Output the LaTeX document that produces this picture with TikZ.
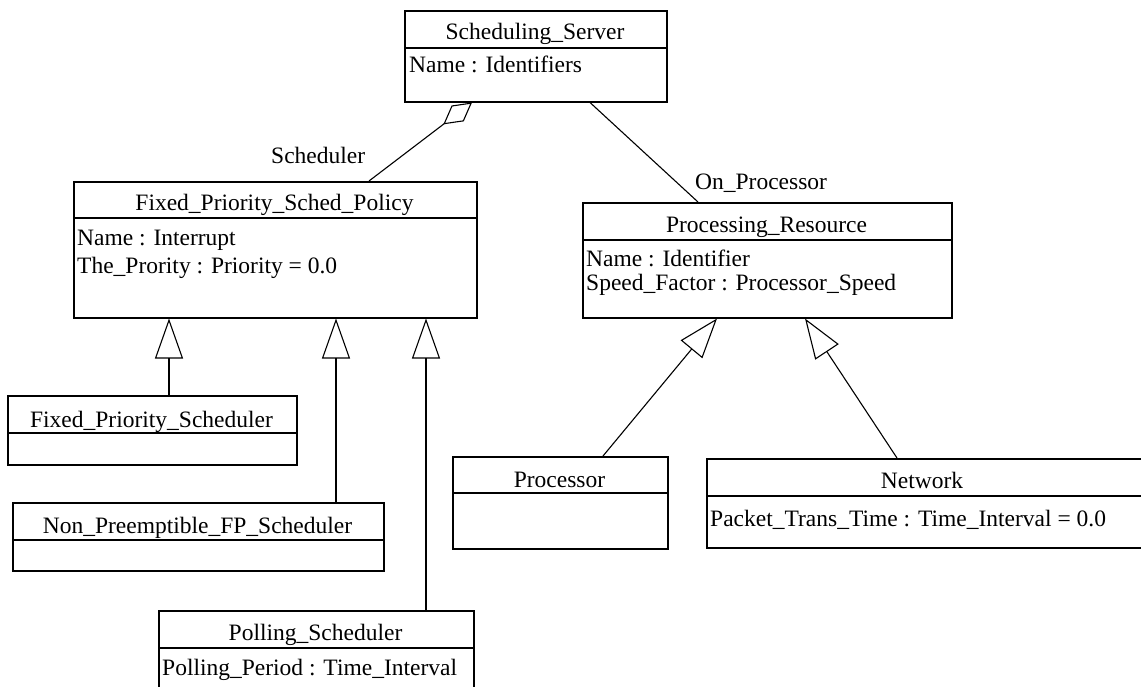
\documentclass[tikz,border=0pt]{standalone}
\usepackage{fontspec}
\setmainfont{Liberation Serif}
\usetikzlibrary{arrows.meta}
\newcommand\umlfont{\fontsize{23.5}{28}\selectfont}
\begin{document}
\begin{tikzpicture}[x=1pt, y=-1pt,
  cls/.style={draw, rectangle, inner sep=0pt, anchor=north west, line width=1.5pt},
  ttl/.style={inner sep=0pt, anchor=base, font=\umlfont},
  attr/.style={inner sep=0pt, anchor=base west, font=\umlfont},
  lbl/.style={inner sep=0pt, anchor=base west, font=\umlfont},
  sep/.style={line width=1.5pt},
  link/.style={line width=1.1pt},
  gen/.style={link, -{Triangle[open, length=40pt, width=28pt]}},
  agg/.style={link, -{Diamond[open, length=36pt, width=20pt]}},
]
\fill[white] (0,0) rectangle (1141,686);
\useasboundingbox (0,0) rectangle (1141,686);
\clip (0,0) rectangle (1141,686);

% class boxes
\node[cls, minimum width=262pt, minimum height=91pt]  (ss)   at (404,10)  {};
\node[cls, minimum width=403pt, minimum height=136pt] (fpsp) at (73,181)  {};
\node[cls, minimum width=369pt, minimum height=115pt] (pr)   at (582,202) {};
\node[cls, minimum width=289pt, minimum height=69pt]  (fps)  at (7,395)   {};
\node[cls, minimum width=371pt, minimum height=68pt]  (np)   at (12,502)  {};
\node[cls, minimum width=315pt, minimum height=100pt] (poll) at (158,610) {};
\node[cls, minimum width=215pt, minimum height=92pt]  (proc) at (452,456) {};
\node[cls, minimum width=450pt, minimum height=89pt]  (net)  at (706,458) {};

% compartment separators
\foreach \n/\h in {ss/38, fpsp/37, pr/38, fps/38, np/38, poll/38, proc/37, net/38}
  \draw[sep] ([yshift=-\h pt]\n.north west) -- ([yshift=-\h pt]\n.north east);

% class names
\node[ttl] (ss-t)   at (535,39)    {Scheduling\_Server};
\node[ttl] (fpsp-t) at (274.5,210) {Fixed\_Priority\_Sched\_Policy};
\node[ttl] (pr-t)   at (766.5,232) {Processing\_Resource};
\node[ttl] (fps-t)  at (151.5,427) {Fixed\_Priority\_Scheduler};
\node[ttl] (np-t)   at (197.5,533) {Non\_Preemptible\_FP\_Scheduler};
\node[ttl] (poll-t) at (315.5,640) {Polling\_Scheduler};
\node[ttl] (proc-t) at (559.5,487) {Processor};
\node[ttl] (net-t)  at (922,488)   {Network};

% attributes
\node[attr] (ss-a1)   at (409,72)  {Name : Identifiers};
\node[attr] (fpsp-a1) at (77,245)  {Name : Interrupt};
\node[attr] (fpsp-a2) at (77,273)  {The\_Prority : Priority = 0.0};
\node[attr] (pr-a1)   at (586,266) {Name : Identifier};
\node[attr] (pr-a2)   at (586,290) {Speed\_Factor : Processor\_Speed};
\node[attr] (poll-a1) at (162,675) {Polling\_Period : Time\_Interval};
\node[attr] (net-a1)  at (710,526) {Packet\_Trans\_Time : Time\_Interval = 0.0};

% association role names
\node[lbl] (role-sched) at (271,163) {Scheduler};
\node[lbl] (role-proc)  at (695,189) {On\_Processor};

% aggregation and association
\draw[agg]  ([xshift=296pt]fpsp.north west) -- ([xshift=68pt]ss.south west);
\draw[link] ([xshift=186pt]ss.south west)   -- ([xshift=116pt]pr.north west);

% generalizations
\draw[gen] ([xshift=162pt]fps.north west)  -- ([xshift=96pt]fpsp.south west);
\draw[gen] ([xshift=324pt]np.north west)   -- ([xshift=263pt]fpsp.south west);
\draw[gen] ([xshift=268pt]poll.north west) -- ([xshift=353pt]fpsp.south west);
\draw[gen] ([xshift=151pt]proc.north west) -- ([xshift=135pt]pr.south west);
\draw[gen] ([xshift=191pt]net.north west)  -- ([xshift=223pt]pr.south west);
\end{tikzpicture}
\end{document}
